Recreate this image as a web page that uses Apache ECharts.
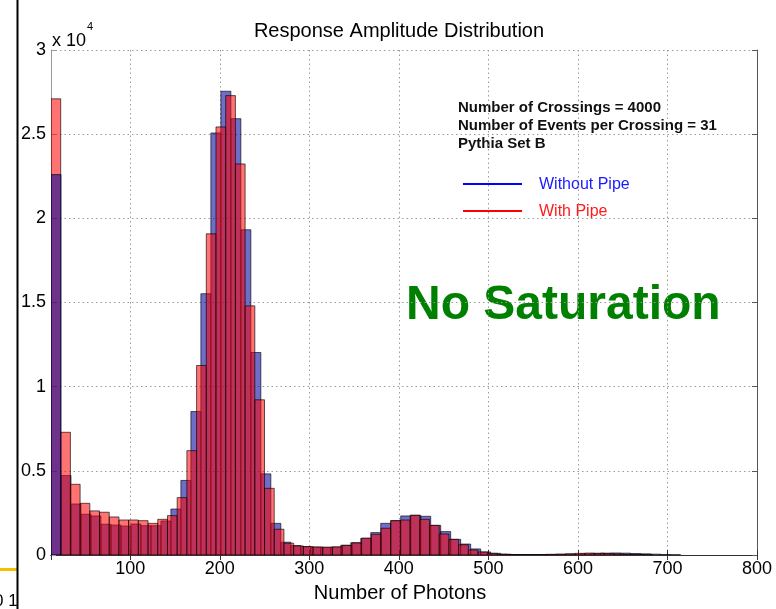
<!DOCTYPE html>
<html>
<head>
<meta charset="utf-8">
<script src="https://cdn.jsdelivr.net/npm/echarts@6/dist/echarts.min.js"></script>
<style>
  html, body { margin: 0; padding: 0; background: #fff; }
  #chart { width: 776px; height: 609px; }
</style>
</head>
<body>
<div id="chart"></div>
<script>
// Histogram bins: both series start at the same lower edge, each with its own bin width
const binStart = 11.5;
const withoutPipeBinWidth = 11.16;
const withPipeBinWidth = 10.84;

// Counts per bin, "Without Pipe"
const withoutPipeCounts = [
  22600, 4720, 3030, 2420, 2320, 1830, 1780, 1720, 1840, 1740,
  1740, 2020, 2730, 4430, 8520, 15520, 25070, 27550, 25920, 19320,
  12030, 4820, 1880, 760, 560, 500, 460, 440, 460, 580,
  730, 990, 1330, 1880, 2040, 2320, 2360, 2300, 1760, 1390,
  930, 650, 360, 180, 100, 50, 30, 25, 20, 20,
  25, 30, 45, 70, 90, 110, 120, 110, 90, 70,
  50, 30, 15
];

// Counts per bin, "With Pipe"
const withPipeCounts = [
  27100, 7290, 4200, 3070, 2620, 2540, 2260, 2080, 2080, 2040,
  1880, 2120, 2340, 3410, 6200, 11260, 19080, 25430, 27290, 23230,
  14800, 9220, 3960, 1530, 700, 540, 500, 480, 470, 490,
  570, 720, 1000, 1230, 1590, 2040, 2080, 2360, 2120, 1760,
  1250, 930, 610, 300, 180, 100, 45, 30, 25, 25,
  30, 40, 60, 80, 100, 115, 105, 85, 60, 40,
  25, 15
];

const xMin = 11.5, xMax = 800;
const yMax = 30000, yStep = 5000, yScale = 10000;
const xTickValues = [100, 200, 300, 400, 500, 600, 700, 800];

const seriesNames = ['Without Pipe', 'With Pipe'];
const infoLines = [
  'Number of Crossings = 4000',
  'Number of Events per Crossing = 31',
  'Pythia Set B'
];

function toBins(counts, width) {
  return counts.map((c, i) => [binStart + i * width, binStart + (i + 1) * width, c, i]);
}

const blueFill = 'rgba(0,0,160,0.57)';
const redFill = 'rgba(255,0,0,0.55)';

function barRenderer(fill, z2For) {
  return function (params, api) {
    const x0 = api.value(0), x1 = api.value(1), v = api.value(2);
    const top = api.coord([x0, v]);
    const bottom = api.coord([x1, 0]);
    return {
      type: 'rect',
      shape: { x: top[0], y: top[1], width: bottom[0] - top[0], height: bottom[1] - top[1] },
      style: { fill: fill, stroke: 'rgba(0,0,0,0.8)', lineWidth: 0.8 },
      z2: z2For(api.value(3))
    };
  };
}

const chart = echarts.init(document.getElementById('chart'), null, { renderer: 'canvas' });

const font = '"Liberation Sans", Arial, Helvetica, sans-serif';
const gridLine = { show: true, lineStyle: { color: '#9a9a9a', type: [1.5, 3], width: 1 } };

const xLabelFormatter = v => (xTickValues.indexOf(Math.round(v)) >= 0 && Math.abs(v - Math.round(v)) < 1e-6) ? String(Math.round(v)) : '';

chart.setOption({
  animation: false,
  backgroundColor: '#fff',
  grid: { left: 51, right: 19, top: 50, bottom: 54, containLabel: false },
  xAxis: [
    {
      type: 'value', min: xMin, max: xMax, splitNumber: 8, position: 'bottom',
      axisLine: { lineStyle: { color: '#333', width: 1 } },
      axisTick: { inside: true, length: 5, lineStyle: { color: '#333' } },
      axisLabel: { formatter: xLabelFormatter, showMinLabel: false, margin: 5, fontFamily: font, fontSize: 18, color: '#000' },
      splitLine: gridLine
    },
    {
      type: 'value', min: xMin, max: xMax, splitNumber: 8, position: 'top',
      axisLine: { lineStyle: { color: '#333', width: 1, type: [3, 1] } },
      axisTick: { inside: true, length: 5, lineStyle: { color: '#333' } },
      axisLabel: { show: false },
      splitLine: { show: false }
    }
  ],
  yAxis: [
    {
      type: 'value', min: 0, max: yMax, interval: yStep, position: 'left',
      axisLine: { show: true, lineStyle: { color: '#999', width: 1 } },
      axisTick: { show: true, inside: true, length: 5, lineStyle: { color: '#999' } },
      axisLabel: { formatter: v => String(v / yScale), margin: 5, fontFamily: font, fontSize: 18, color: '#000' },
      splitLine: gridLine
    },
    {
      type: 'value', min: 0, max: yMax, interval: yStep, position: 'right',
      axisLine: { show: true, lineStyle: { color: '#555', width: 1 } },
      axisTick: { show: true, inside: true, length: 5, lineStyle: { color: '#555' } },
      axisLabel: { show: false },
      splitLine: { show: false }
    }
  ],
  series: [
    {
      name: seriesNames[0], type: 'custom', xAxisIndex: 0, yAxisIndex: 0, clip: true,
      renderItem: barRenderer(blueFill, i => (i === 0 ? 10 : 0)),
      encode: { x: [0, 1], y: 2 },
      data: toBins(withoutPipeCounts, withoutPipeBinWidth)
    },
    {
      name: seriesNames[1], type: 'custom', xAxisIndex: 0, yAxisIndex: 0, clip: true,
      renderItem: barRenderer(redFill, () => 5),
      encode: { x: [0, 1], y: 2 },
      data: toBins(withPipeCounts, withPipeBinWidth)
    }
  ],
  graphic: [
    { type: 'text', x: 399, y: 31, style: { text: 'Response Amplitude Distribution', align: 'center', verticalAlign: 'middle', fontFamily: font, fontSize: 20, fill: '#000' } },
    { type: 'text', x: 400, y: 593, style: { text: 'Number of Photons', align: 'center', verticalAlign: 'middle', fontFamily: font, fontSize: 20, fill: '#000' } },
    { type: 'text', x: 52, y: 41, style: { text: 'x 10', verticalAlign: 'middle', fontFamily: font, fontSize: 18, fill: '#000' } },
    { type: 'text', x: 87, y: 27, style: { text: '4', verticalAlign: 'middle', fontFamily: font, fontSize: 11, fill: '#000' } },
    { type: 'text', x: 458, y: 99, style: { text: infoLines.join('\n'), lineHeight: 18, fontFamily: font, fontSize: 15, fontWeight: 'bold', fill: '#111' } },
    { type: 'line', shape: { x1: 463, y1: 184, x2: 522, y2: 184 }, style: { stroke: '#0000ff', lineWidth: 2 } },
    { type: 'line', shape: { x1: 463, y1: 211, x2: 522, y2: 211 }, style: { stroke: '#ff0000', lineWidth: 2 } },
    { type: 'text', x: 539, y: 185, style: { text: seriesNames[0], verticalAlign: 'middle', fontFamily: font, fontSize: 16, fill: '#1a1aff' } },
    { type: 'text', x: 539, y: 212, style: { text: seriesNames[1], verticalAlign: 'middle', fontFamily: font, fontSize: 16, fill: '#ff1a1a' } },
    { type: 'text', x: 406, y: 306, style: { text: 'No Saturation', verticalAlign: 'middle', fontFamily: font, fontSize: 48, fontWeight: 'bold', fill: '#008000' } },
    // slide frame remnants on the left
    { type: 'text', x: -6, y: 601, style: { text: '0 1', verticalAlign: 'middle', fontFamily: font, fontSize: 17, fill: '#000' } },
    { type: 'rect', shape: { x: 0, y: 568, width: 17, height: 3 }, style: { fill: '#f4c000' } },
    { type: 'rect', shape: { x: 16.5, y: 0, width: 2, height: 609 }, style: { fill: '#000' } }
  ]
});
</script>
</body>
</html>
